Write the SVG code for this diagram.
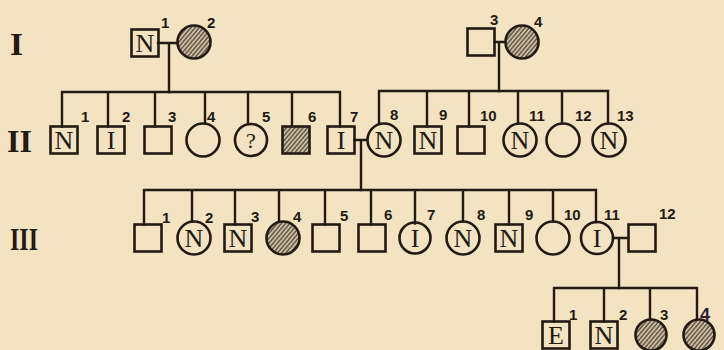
<svg xmlns="http://www.w3.org/2000/svg" width="724" height="350" viewBox="0 0 724 350">
<defs>
<pattern id="hatch" width="3.2" height="3.2" patternUnits="userSpaceOnUse" patternTransform="rotate(40)">
<rect width="3.2" height="3.2" fill="#cfc0a4"/>
<line x1="0.8" y1="0" x2="0.8" y2="3.2" stroke="#3b3128" stroke-width="1.1"/>
</pattern>
<style>
.sym{fill:none;stroke:#231a12;stroke-width:2.6}
.aff{fill:url(#hatch);stroke:#231a12;stroke-width:2.6}
.ln{fill:none;stroke:#231a12;stroke-width:2.4;stroke-linecap:square}
.in{font-family:"Liberation Serif",serif;font-size:26px;fill:#231a12;text-anchor:middle}
.lbl{font-family:"Liberation Sans",sans-serif;font-weight:bold;font-size:15px;fill:#231a12}
.gen{font-family:"Liberation Serif",serif;font-weight:bold;font-size:31px;fill:#231a12}
</style>
</defs>
<rect width="724" height="350" fill="#f3e3c3"/>

<g id="generation-labels">
<text class="gen" x="10" y="55" textLength="13" lengthAdjust="spacingAndGlyphs">I</text>
<text class="gen" x="7" y="152" textLength="25" lengthAdjust="spacingAndGlyphs">II</text>
<text class="gen" x="10" y="250" textLength="28" lengthAdjust="spacingAndGlyphs">III</text>
</g>

<g id="connectors">
<!-- gen I matings -->
<path class="ln" d="M158 43H177M169 43V92"/>
<path class="ln" d="M495 42H505M499 42V91"/>
<!-- sibship II left -->
<path class="ln" d="M62 92H340M62 92V126.5M108 92V126.5M155 92V126.5M205 92V123.5M248 92V124M292 92V126.5M340 92V126.5"/>
<!-- sibship II right -->
<path class="ln" d="M379 91H608M379 91V124M427 91V126.5M469 91V126.5M518 91V123.5M562 91V123.5M608 91V123.5"/>
<!-- mating II-7 x II-8 -->
<path class="ln" d="M354.5 140H367M361 140V190"/>
<!-- sibship III -->
<path class="ln" d="M144 190H596M144 190V224.5M192 190V221.5M235 190V224.5M279 190V222M325 190V224.5M371 190V224.5M415 190V223.5M463 190V221.5M509 190V224.5M553 190V221.5M596 190V222"/>
<!-- mating III-11 x III-12 -->
<path class="ln" d="M613 238H628M619 238V288"/>
<!-- sibship IV -->
<path class="ln" d="M554 288H697M554 288V321.5M604 288V321.5M650 288V320M697 288V320"/>
</g>

<g id="I-1"><rect class="sym" x="131.5" y="29.5" width="27" height="27"/><text class="in" x="145" y="52">N</text><text class="lbl" x="161" y="28">1</text></g>
<g id="I-2"><circle class="aff" cx="194" cy="42" r="16.5"/><text class="lbl" x="207" y="28">2</text></g>
<g id="I-3"><rect class="sym" x="467.5" y="28.5" width="27" height="27"/><text class="lbl" x="490" y="25">3</text></g>
<g id="I-4"><circle class="aff" cx="522" cy="42" r="16.5"/><text class="lbl" x="534" y="27">4</text></g>

<g id="II-1"><rect class="sym" x="50.5" y="126.5" width="27" height="27"/><text class="in" x="64" y="149">N</text><text class="lbl" x="81" y="122">1</text></g>
<g id="II-2"><rect class="sym" x="97.5" y="126.5" width="27" height="27"/><text class="in" x="111" y="149">I</text><text class="lbl" x="122" y="122">2</text></g>
<g id="II-3"><rect class="sym" x="144.5" y="126.5" width="27" height="27"/><text class="lbl" x="168" y="122">3</text></g>
<g id="II-4"><circle class="sym" cx="203" cy="140" r="16.5"/><text class="lbl" x="207" y="122">4</text></g>
<g id="II-5"><circle class="sym" cx="251" cy="140" r="16"/><text class="in" x="251" y="148" style="font-size:22px">?</text><text class="lbl" x="262" y="122">5</text></g>
<g id="II-6"><rect class="aff" x="282.5" y="126.5" width="27" height="27"/><text class="lbl" x="308" y="122">6</text></g>
<g id="II-7"><rect class="sym" x="327.5" y="126.5" width="27" height="27"/><text class="in" x="341" y="149">I</text><text class="lbl" x="350" y="122">7</text></g>
<g id="II-8"><circle class="sym" cx="384" cy="140" r="16.5"/><text class="in" x="384" y="149">N</text><text class="lbl" x="390" y="120">8</text></g>
<g id="II-9"><rect class="sym" x="414.5" y="126.5" width="27" height="27"/><text class="in" x="428" y="149">N</text><text class="lbl" x="439" y="120">9</text></g>
<g id="II-10"><rect class="sym" x="457.5" y="126.5" width="27" height="27"/><text class="lbl" x="480" y="121">10</text></g>
<g id="II-11"><circle class="sym" cx="520" cy="140" r="16.5"/><text class="in" x="520" y="149">N</text><text class="lbl" x="529" y="121">11</text></g>
<g id="II-12"><circle class="sym" cx="563" cy="140" r="16.5"/><text class="lbl" x="575" y="121">12</text></g>
<g id="II-13"><circle class="sym" cx="609" cy="140" r="16.5"/><text class="in" x="609" y="149">N</text><text class="lbl" x="617" y="121">13</text></g>

<g id="III-1"><rect class="sym" x="134.5" y="224.5" width="27" height="27"/><text class="lbl" x="162" y="223">1</text></g>
<g id="III-2"><circle class="sym" cx="194" cy="238" r="16.5"/><text class="in" x="194" y="247">N</text><text class="lbl" x="205" y="223">2</text></g>
<g id="III-3"><rect class="sym" x="224.5" y="224.5" width="27" height="27"/><text class="in" x="238" y="247">N</text><text class="lbl" x="251" y="222">3</text></g>
<g id="III-4"><circle class="aff" cx="283" cy="238" r="16.5"/><text class="lbl" x="293" y="222">4</text></g>
<g id="III-5"><rect class="sym" x="312.5" y="224.5" width="27" height="27"/><text class="lbl" x="340" y="221">5</text></g>
<g id="III-6"><rect class="sym" x="358.5" y="224.5" width="27" height="27"/><text class="lbl" x="384" y="220">6</text></g>
<g id="III-7"><circle class="sym" cx="415" cy="238" r="15.5"/><text class="in" x="415" y="247">I</text><text class="lbl" x="427" y="220">7</text></g>
<g id="III-8"><circle class="sym" cx="463" cy="238" r="16.5"/><text class="in" x="463" y="247">N</text><text class="lbl" x="477" y="220">8</text></g>
<g id="III-9"><rect class="sym" x="495.5" y="224.5" width="27" height="27"/><text class="in" x="509" y="247">N</text><text class="lbl" x="525" y="220">9</text></g>
<g id="III-10"><circle class="sym" cx="553" cy="238" r="16.5"/><text class="lbl" x="564" y="220">10</text></g>
<g id="III-11"><circle class="sym" cx="597" cy="238" r="16"/><text class="in" x="597" y="247">I</text><text class="lbl" x="604" y="220">11</text></g>
<g id="III-12"><rect class="sym" x="628.5" y="224.5" width="27" height="27"/><text class="lbl" x="659" y="219">12</text></g>

<g id="IV-1"><rect class="sym" x="542.5" y="321.5" width="27" height="27"/><text class="in" x="556" y="344">E</text><text class="lbl" x="569" y="320">1</text></g>
<g id="IV-2"><rect class="sym" x="590.5" y="321.5" width="27" height="27"/><text class="in" x="604" y="344">N</text><text class="lbl" x="619" y="320">2</text></g>
<g id="IV-3"><circle class="aff" cx="651" cy="335" r="15.5"/><text class="lbl" x="660" y="320">3</text></g>
<g id="IV-4"><circle class="aff" cx="699" cy="335" r="15.5"/><text class="lbl" x="700" y="321" style="font-size:18px;fill:#2e2238">4</text></g>
</svg>
